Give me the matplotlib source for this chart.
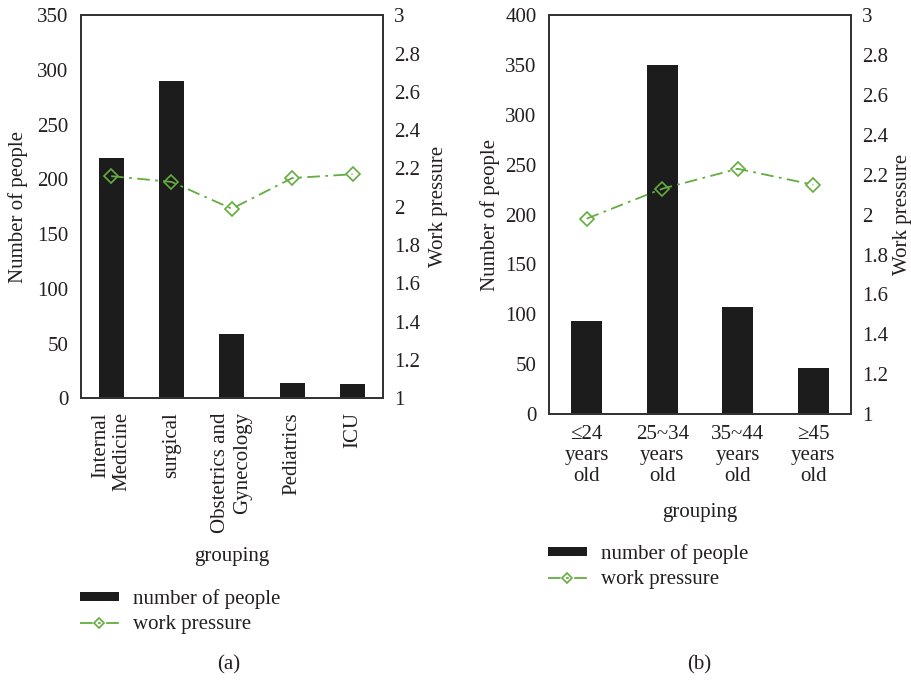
import matplotlib
matplotlib.use("Agg")
import matplotlib.pyplot as plt
import numpy as np

plt.rcParams["font.family"] = ["Liberation Serif", "DejaVu Serif"]
plt.rcParams["font.size"] = 15
plt.rcParams["text.color"] = "#231f20"
plt.rcParams["axes.labelcolor"] = "#231f20"
plt.rcParams["xtick.color"] = "#231f20"
plt.rcParams["ytick.color"] = "#231f20"

# panel (a): by department
dept = ["Internal\nMedicine", "surgical", "Obstetrics and\nGynecology", "Pediatrics", "ICU"]
dept_people = [220, 290, 59, 14, 13]
dept_pressure = [2.16, 2.13, 1.99, 2.15, 2.17]

# panel (b): by age
age = ["\u226424\nyears\nold", "25~34\nyears\nold", "35~44\nyears\nold", "\u226545\nyears\nold"]
age_people = [93, 350, 107, 46]
age_pressure = [1.98, 2.13, 2.23, 2.15]

bar_color = "#1c1c1c"
green = "#62ad3e"

fig = plt.figure(figsize=(9.12, 6.8), dpi=100)


def panel(rect, cats, people, pressure, ymax, yticks, rot, xlab_y, ylab_x, ylab2_x,
          leg_xy, tag_xy, tag):
    ax = fig.add_axes(rect)
    x = np.arange(len(cats))
    bars = ax.bar(x, people, width=0.415, color=bar_color, label="number of people", zorder=2)
    ax.set_xlim(-0.5, len(cats) - 0.5)
    ax.set_ylim(0, ymax)
    ax.set_yticks(yticks)
    ax.set_xticks(x)
    if rot:
        ax.set_xticklabels(cats, rotation=90, va="top", ha="center", multialignment="right")
        ax.tick_params(axis="x", pad=10)
    else:
        ax.set_xticklabels(cats, linespacing=1.15)
        ax.tick_params(axis="x", pad=8)
    ax.tick_params(length=0)
    ax.tick_params(axis="y", pad=9)
    for s in ax.spines.values():
        s.set_color("#333333")
        s.set_linewidth(1.3)

    ax2 = ax.twinx()
    line, = ax2.plot(x, pressure, color=green, lw=1.3, dashes=(7, 3, 1.5, 3),
                     marker="D", ms=7, mfc="none", mec=green, mew=1.2,
                     label="work pressure", zorder=3)
    ax2.set_ylim(1, 3)
    ax2.set_yticks([1, 1.2, 1.4, 1.6, 1.8, 2, 2.2, 2.4, 2.6, 2.8, 3])
    ax2.set_yticklabels(["1", "1.2", "1.4", "1.6", "1.8", "2", "2.2", "2.4", "2.6", "2.8", "3"])
    ax2.tick_params(length=0, pad=8)
    for s in ax2.spines.values():
        s.set_color("#333333")
        s.set_linewidth(1.3)

    ax.set_xlabel("grouping")
    ax.xaxis.set_label_coords(0.5, xlab_y)
    ax.xaxis.label.set_va("center")
    ax.set_ylabel("Number of people")
    ax.yaxis.set_label_coords(ylab_x, 0.5)
    ax.yaxis.label.set_va("center")
    ax2.set_ylabel("Work pressure")
    ax2.yaxis.set_label_coords(ylab2_x, 0.5)
    ax2.yaxis.label.set_va("center")

    fig.legend([bars, line], ["number of people", "work pressure"],
               loc="upper left", bbox_to_anchor=leg_xy, frameon=False,
               borderpad=0, borderaxespad=0, handlelength=1.85, handleheight=0.33,
               handletextpad=0.7, labelspacing=0.3, numpoints=1, markerscale=0.7)
    fig.text(tag_xy[0], tag_xy[1], tag, ha="center", va="center")
    return ax, ax2


panel([0.0888, 0.4143, 0.3308, 0.5632], dept, dept_people, dept_pressure,
      350, range(0, 351, 50), True, -0.414, -0.209, 1.184,
      (80 / 912, 1 - 589 / 680), (229 / 912, 1 - 665 / 680), "(a)")

panel([0.602, 0.3912, 0.3311, 0.5863], age, age_people, age_pressure,
      400, range(0, 401, 50), False, -0.246, -0.195, 1.17,
      (548 / 912, 1 - 544 / 680), (699 / 912, 1 - 665 / 680), "(b)")

fig.savefig("out.png", dpi=100)
